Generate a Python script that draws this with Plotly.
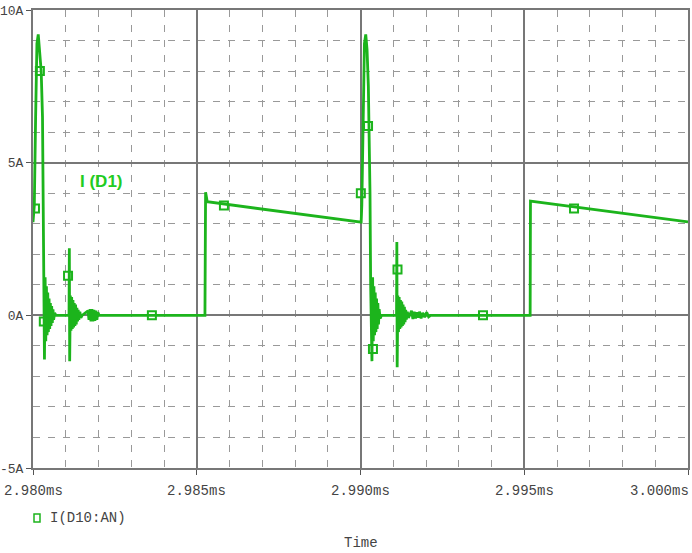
import plotly.graph_objects as go

# time offset from 2.980 ms, in microseconds ; current in A
time_us = [
    0.00, 0.04, 0.08, 0.12, 0.16, 0.20, 0.25, 0.29, 0.31, 0.33, 0.35,
    0.37, 0.39, 0.41, 0.43, 0.45, 0.47, 0.49, 0.51, 0.53, 0.55, 0.57, 0.59, 0.61, 0.63, 0.66, 0.70,
    1.10, 1.11, 1.12, 1.14, 1.16, 1.18, 1.20, 1.22, 1.24, 1.26, 1.28, 1.30, 1.32, 1.34, 1.36, 1.38,
    1.40, 1.43, 1.46, 1.50,
    1.68, 1.71, 1.74, 1.77, 1.80, 1.83, 1.86, 1.89, 1.92, 1.95, 1.98, 2.02,
    5.25, 5.26, 5.27, 5.32, 10.02,
    10.04, 10.08, 10.12, 10.16, 10.20, 10.24, 10.27, 10.29, 10.31, 10.33, 10.35,
    10.37, 10.39, 10.41, 10.43, 10.45, 10.47, 10.49, 10.51, 10.53, 10.55, 10.57, 10.60, 10.64,
    11.10, 11.11, 11.12, 11.14, 11.16, 11.18, 11.20, 11.22, 11.24, 11.26, 11.28, 11.30, 11.32,
    11.34, 11.36, 11.38, 11.40, 11.43, 11.46, 11.50,
    11.56, 11.60, 11.64, 11.68, 11.72, 11.76, 11.80, 11.85, 11.90, 11.96, 12.02, 12.08, 12.14,
    15.18, 15.19, 20.00,
]
current_A = [
    3.05, 3.6, 6.5, 8.9, 9.2, 8.7, 8.0, 6.5, 4.0, 1.0, -1.45,
    1.25, -0.85, 0.95, -0.65, 0.75, -0.55, 0.55, -0.45, 0.4, -0.35, 0.3, -0.25, 0.2, -0.15, 0.08, 0.0,
    0.0, 2.2, -1.5, 0.65, -0.5, 0.6, -0.45, 0.5, -0.4, 0.4, -0.35, 0.35, -0.3, 0.25, -0.2, 0.18,
    -0.15, 0.12, -0.08, 0.0,
    0.15, -0.15, 0.2, -0.2, 0.2, -0.2, 0.18, -0.18, 0.15, -0.15, 0.1, 0.0,
    0.0, 4.03, 4.03, 3.72, 3.05,
    3.6, 6.5, 8.9, 9.2, 8.7, 7.5, 5.5, 4.0, 1.0, -0.5, -1.5,
    1.25, -0.85, 0.95, -0.65, 0.75, -0.55, 0.55, -0.45, 0.4, -0.3, 0.2, -0.1, 0.0,
    0.0, 2.4, -1.7, 0.65, -0.55, 0.6, -0.45, 0.5, -0.4, 0.45, -0.35, 0.35, -0.3,
    0.28, -0.22, 0.18, -0.14, 0.12, -0.08, 0.0,
    0.15, -0.12, 0.12, -0.1, 0.1, -0.08, 0.12, -0.1, 0.08, -0.06, 0.1, -0.05, 0.0,
    0.0, 3.74, 3.06,
]

# PSpice symbol markers along the trace
marker_us = [0.06, 0.21, 0.33, 1.07, 3.63, 5.83, 10.01, 10.23, 10.38, 11.13, 13.74, 16.52]
marker_A = [3.5, 8.0, -0.2, 1.3, 0.0, 3.6, 4.0, 6.2, -1.1, 1.5, 0.0, 3.5]

x_tick_vals = [0, 5, 10, 15, 20]
x_tick_text = ["2.980ms", "2.985ms", "2.990ms", "2.995ms", "3.000ms"]
y_tick_vals = [-5, 0, 5, 10]
y_tick_text = ["-5A", "0A", "5A", "10A"]

GREEN = "#1cb41c"
MONO = "Liberation Mono, DejaVu Sans Mono, monospace"

fig = go.Figure()
fig.add_trace(go.Scatter(
    x=time_us, y=current_A, mode="lines",
    line=dict(color=GREEN, width=2.8), showlegend=False, hoverinfo="skip",
))
fig.add_trace(go.Scatter(
    x=marker_us, y=marker_A, mode="markers",
    marker=dict(symbol="square-open", size=8, color=GREEN, line=dict(width=2, color=GREEN)),
    showlegend=False, hoverinfo="skip",
))

axis_common = dict(
    showline=True, mirror=True, linecolor="#777", linewidth=2,
    showgrid=True, gridcolor="#777", gridwidth=1.5,
    zeroline=False, ticks="outside", tickcolor="#555", ticklen=5,
    automargin=False,
)

fig.update_layout(
    width=692, height=553,
    margin=dict(l=33, r=4, t=10, b=85),
    paper_bgcolor="white", plot_bgcolor="white",
    xaxis=dict(
        range=[0, 20], tickvals=x_tick_vals, showticklabels=False,
        minor=dict(dtick=1, showgrid=True, gridcolor="#999", griddash="7px,8px", gridwidth=1),
        **axis_common,
    ),
    yaxis=dict(
        range=[-5, 10], tickvals=y_tick_vals, ticktext=y_tick_text,
        tickfont=dict(family=MONO, size=13, color="#444"),
        minor=dict(dtick=1, showgrid=True, gridcolor="#999", griddash="7px,8px", gridwidth=1),
        ticklabelstandoff=0,
        **axis_common,
    ),
    showlegend=False,
)

for i, (v, t) in enumerate(zip(x_tick_vals, x_tick_text)):
    last = i == len(x_tick_vals) - 1
    fig.add_annotation(
        x=v, y=0, xref="x", yref="paper", text=t, showarrow=False,
        xanchor="right" if last else "center",
        yanchor="top", yshift=-13, xshift=3 if last else 0,
        font=dict(family=MONO, size=14, color="#444"),
    )

fig.add_annotation(
    x=(101 - 33) / 655, y=(468 - 181) / 458, xref="paper", yref="paper",
    text="<b>I (D1)</b>", showarrow=False, xanchor="center", yanchor="middle",
    font=dict(family="Liberation Sans, Arial", size=17, color="#22cc22"),
)

fig.add_annotation(
    x=(48 - 33) / 655, y=(468 - 518) / 458, xref="paper", yref="paper",
    text="I(D10:AN)", showarrow=False, xanchor="left", yanchor="middle",
    font=dict(family=MONO, size=14, color="#444"),
)
fig.add_shape(
    type="rect", xref="paper", yref="paper",
    x0=(34 - 33) / 655, x1=(40 - 33) / 655,
    y0=(468 - 522) / 458, y1=(468 - 514) / 458,
    line=dict(color=GREEN, width=1.5), fillcolor="white",
)
fig.add_annotation(
    x=(361 - 33) / 655, y=(468 - 543) / 458, xref="paper", yref="paper",
    text="Time", showarrow=False, xanchor="center", yanchor="middle",
    font=dict(family=MONO, size=14, color="#444"),
)

fig.write_html(
    "out.html",
    config={"displayModeBar": False},
    post_script="document.body.style.margin='0';document.body.style.overflow='hidden';",
)
